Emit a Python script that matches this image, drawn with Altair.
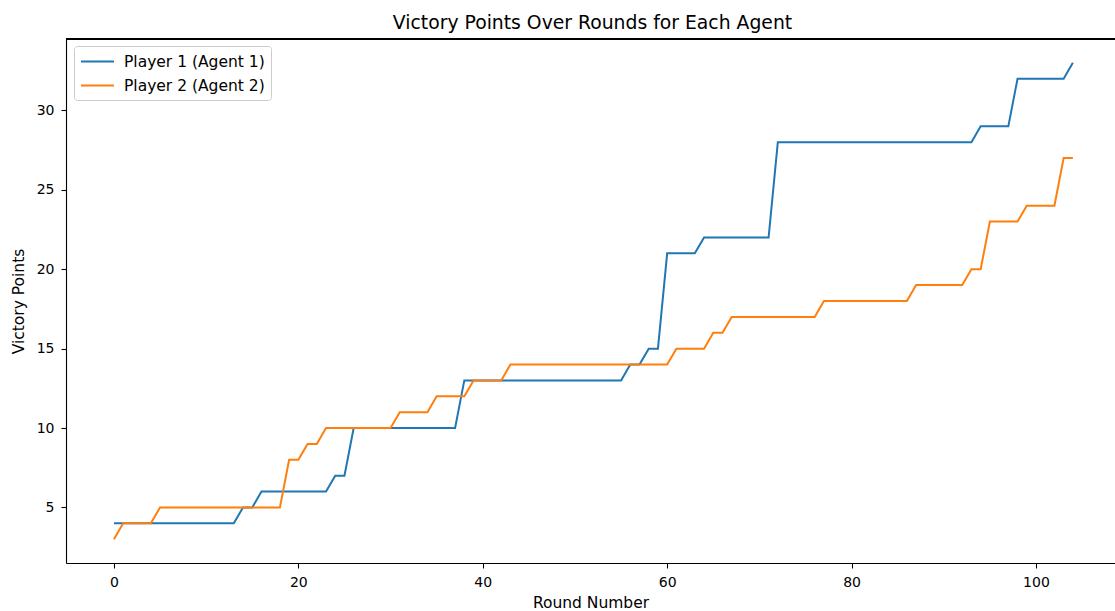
import altair as alt
import pandas as pd

# Round index (x)
rounds = list(range(105))

# Victory points per round
player1 = (
    [4] * 14 + [5, 5] + [6] * 8 + [7, 7] + [10] * 12 + [13] * 18 + [14, 14]
    + [15, 15] + [21] * 4 + [22] * 8 + [28] * 22 + [29] * 4 + [32] * 6 + [33]
)
player2 = (
    [3] + [4] * 4 + [5] * 14 + [8, 8] + [9, 9] + [10] * 8 + [11] * 4 + [12] * 4
    + [13] * 4 + [14] * 18 + [15] * 4 + [16, 16] + [17] * 10 + [18] * 10
    + [19] * 6 + [20, 20] + [23] * 4 + [24] * 4 + [27, 27]
)

series_names = ["Player 1 (Agent 1)", "Player 2 (Agent 2)"]
series_colors = ["#1f77b4", "#ff7f0e"]
x_ticks = [0, 20, 40, 60, 80, 100]
y_ticks = [5, 10, 15, 20, 25, 30]

df = pd.DataFrame({
    "Round Number": rounds * 2,
    "Victory Points": player1 + player2,
    "Player": [series_names[0]] * len(rounds) + [series_names[1]] * len(rounds),
    "order": [0] * len(rounds) + [1] * len(rounds),
})

FONT = "DejaVu Sans"
W, H = 1049, 524

lines = alt.Chart(df).mark_line(strokeWidth=2, clip=True).encode(
    x=alt.X(
        "Round Number:Q",
        scale=alt.Scale(domain=[-5.2, 108.57], nice=False, zero=False),
        axis=alt.Axis(
            values=x_ticks, grid=False, tickSize=5, tickWidth=1.1, tickColor="black",
            domainColor="black", domainWidth=1.1, labelPadding=7,
            labelFont=FONT, labelFontSize=14, labelColor="black",
            titleFont=FONT, titleFontSize=15.5, titleFontWeight="normal", titleColor="black",
            titleY=39, titleBaseline="middle", labelFlush=False,
        ),
    ),
    y=alt.Y(
        "Victory Points:Q",
        scale=alt.Scale(domain=[1.5, 34.5], nice=False, zero=False),
        axis=alt.Axis(
            values=y_ticks, grid=False, tickSize=5, tickWidth=1.1, tickColor="black",
            domainColor="black", domainWidth=1.1, labelPadding=7,
            labelFont=FONT, labelFontSize=14, labelColor="black", labelBaseline="middle",
            titleFont=FONT, titleFontSize=15.5, titleFontWeight="normal", titleColor="black",
            titleX=-48, titleY=H / 2, titleAngle=-90, titleBaseline="middle",
            labelFlush=False,
        ),
    ),
    color=alt.Color(
        "Player:N",
        scale=alt.Scale(domain=series_names, range=series_colors),
        legend=alt.Legend(
            title=None, orient="none", legendX=8, legendY=7,
            padding=6, strokeColor="#cccccc", fillColor="rgba(255,255,255,0.8)",
            cornerRadius=3, labelFont=FONT, labelFontSize=15.5, labelColor="black",
            symbolType="M-2,0H2", symbolSize=272, symbolStrokeWidth=2,
            symbolOffset=8, labelOffset=17, rowPadding=6,
        ),
    ),
    order=alt.Order("order:Q"),
)

top_frame = alt.Chart(df).mark_rule(color="black", strokeWidth=1.1).encode(
    y=alt.value(0)
)

chart = alt.layer(lines, top_frame).properties(
    width=W,
    height=H,
    title=alt.TitleParams(
        "Victory Points Over Rounds for Each Agent",
        font=FONT, fontSize=18.8, fontWeight="normal", color="black",
        anchor="middle", frame="group", baseline="bottom", offset=-13, dx=2,
    ),
    autosize=alt.AutoSizeParams(type="none"),
    padding={"left": 66, "top": 39, "right": 0, "bottom": 48},
).configure_view(stroke=None).configure(background="white")

chart.save("out.html", embed_options={"renderer": "svg", "actions": False})
